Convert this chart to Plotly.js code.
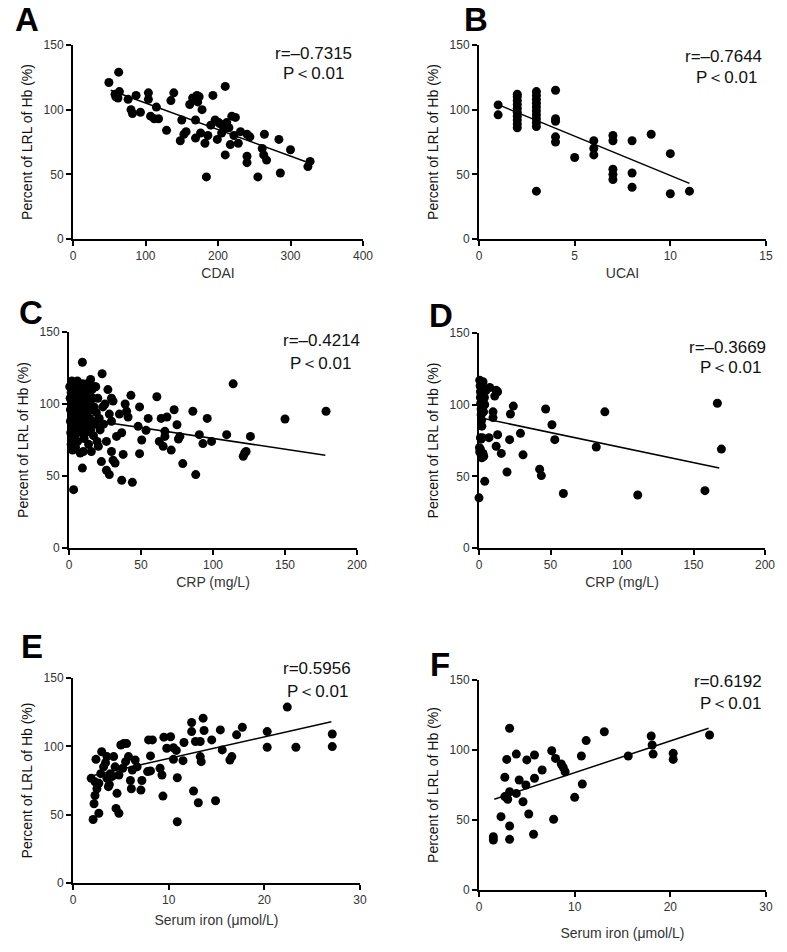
<!DOCTYPE html>
<html>
<head>
<meta charset="utf-8">
<script src="https://cdn.plot.ly/plotly-3.0.1.min.js"></script>
<style>html,body{margin:0;padding:0;background:#fff;}#chart{width:787px;height:952px;}</style>
</head>
<body>
<div id="chart"></div>
<script>
// ---------- DATA ----------
const panelLetters = ["A", "B", "C", "D", "E", "F"];
const xTitles = ["CDAI", "UCAI", "CRP (mg/L)", "CRP (mg/L)", "Serum iron (μmol/L)", "Serum iron (μmol/L)"];
const yTitle = "Percent of LRL of Hb (%)";
const rTexts = ["r=–0.7315", "r=–0.7644", "r=–0.4214", "r=–0.3669", "r=0.5956", "r=0.6192"];
const pText = "P＜0.01";
const xRanges = [[0, 400], [0, 15], [0, 200], [0, 200], [0, 30], [0, 30]];
const xTickVals = [[0, 100, 200, 300, 400], [0, 5, 10, 15], [0, 50, 100, 150, 200], [0, 50, 100, 150, 200], [0, 10, 20, 30], [0, 10, 20, 30]];
const yTickVals = [0, 50, 100, 150];

// Panel A: CDAI
const aX = [49.5, 63, 59, 64, 58, 62, 76, 87, 80, 82, 93, 104, 104, 107, 115, 118, 112, 129, 139, 135, 150, 153, 148, 161, 165, 171, 174, 169, 169, 176, 178, 182, 184, 190, 193, 196, 199, 201, 205, 210, 210, 212, 208, 217, 219, 224, 222, 228, 231, 240, 244, 240, 240, 255, 261, 263, 267, 264, 284, 286, 300, 324, 327, 186, 203, 156, 172, 215];
const aY = [121, 129, 110, 114, 112, 109, 108, 111, 100, 97, 98, 113, 108, 95, 102, 93, 93, 84, 113, 107, 92, 81, 76, 104, 109, 111, 110, 92, 78, 82, 100, 74, 48, 88, 111, 92, 77, 90, 82, 118, 65, 90, 85, 73, 95, 94, 80, 74, 83, 81, 79, 64, 59, 48, 70, 65, 61, 81, 77, 51, 69, 56, 60, 80, 89, 83, 106, 86];
const aFitX = [52, 325];
const aFitY = [115, 59];

// Panel B: UCAI
const bX = [1, 1, 2, 2, 2, 2, 2, 2, 2, 2, 2, 2, 3, 3, 3, 3, 3, 3, 3, 3, 3, 3, 3, 4, 4, 4, 4, 4, 5, 6, 6, 6, 7, 7, 7, 7, 7, 8, 8, 8, 9, 10, 10, 11];
const bY = [103.7, 96, 112, 110, 107, 104, 101, 98, 95, 92, 89, 86, 114, 111, 108, 105, 102, 99, 96, 93, 90, 87, 37, 115, 93, 91, 79, 75, 63, 76, 70, 65, 80, 76, 54, 50, 46, 76, 51, 40, 81, 66, 35, 37];
const bFitX = [0.9, 11];
const bFitY = [104.5, 43];

// Panel C: CRP (CD)
const cX = [0.5, 0.8, 1, 1, 1.2, 1.5, 1.5, 1.8, 2, 2, 2.2, 2.5, 2.5, 2.8, 3, 3, 3.2, 3.5, 3.5, 3.8, 4, 4, 4.3, 4.5, 4.8, 5, 5, 5.3, 5.5, 5.8, 6, 6, 6.3, 6.5, 6.8, 7, 7.2, 7.5, 7.8, 8, 8.2, 8.5, 8.8, 9, 9.3, 9.3, 9.5, 9.8, 10, 10, 10.3, 10.5, 10.8, 11, 11.3, 11.6, 12, 12.3, 12.6, 13, 13.3, 13.6, 14, 14.3, 14.6, 15, 15, 15.5, 15.5, 16, 16.3, 16.6, 17, 17.4, 17.8, 18.2, 18.6, 19, 19.5, 20, 20.4, 21, 21.6, 22.5, 23, 23.5, 24, 25, 27, 29.5, 30.6, 28, 29.5, 26, 28, 29.5, 30.6, 32, 26, 37.6, 36.6, 44, 43, 39, 40, 41, 35, 36.6, 33, 49, 48, 50.5, 49, 53.5, 55, 61, 62.7, 65.4, 64, 68, 66.6, 66.6, 71, 75, 76, 77, 73, 79, 86, 88, 90.5, 93, 96, 99, 109.5, 114, 121, 122, 123, 126, 150, 178.5];
const cY = [112, 104, 96, 88, 80, 72, 108, 100, 116, 92, 84, 76, 68, 110, 102, 94, 40.5, 86, 114, 106, 98, 78, 90, 70, 82, 110, 102, 94, 86, 116, 74, 106, 98, 90, 112, 82, 104, 96, 66, 88, 108, 100, 80, 92, 129, 55.5, 114, 84, 67, 104, 96, 76, 110, 88, 100, 80, 106, 92, 114, 84, 98, 72, 108, 90, 102, 117, 82, 67, 96, 110, 88, 104, 78, 98, 112, 86, 112, 94, 74, 104, 70.6, 90, 82, 60, 121, 98, 86, 100, 110, 104, 102, 93, 88, 54, 51, 67, 61, 59, 74, 65, 47, 45.6, 106, 100, 95, 91, 93, 80, 77.5, 98, 84.5, 75, 65.5, 81.7, 90, 105, 74, 70.6, 90, 91, 81, 77.5, 68, 85.6, 75.7, 77.5, 96, 58.6, 95, 51, 78.7, 72.5, 90, 74, 78.7, 114, 63.7, 66, 67, 77.5, 89.6, 95];
const cFitX = [0.5, 178];
const cFitY = [91, 64.4];

// Panel D: CRP (UC)
const dX = [0, 0.3, 0.5, 0.8, 1, 1, 1.2, 1.5, 1.5, 1.8, 2, 2, 2.3, 2.5, 2.8, 3, 3.2, 3.5, 3.8, 4, 1, 1.5, 0.5, 1, 2, 2.8, 5, 7.5, 12, 13, 11, 2.3, 2.8, 3.3, 4, 7, 9.8, 9.8, 12, 13, 15.6, 19.6, 21.4, 22, 24, 29, 30.8, 42.4, 43.6, 46.6, 51, 53, 59, 82, 88, 111, 158, 166.7, 169.5];
const dY = [35, 70, 117, 113, 109, 105, 101, 97, 93, 89, 85, 115, 111, 107, 103, 99, 95, 111, 105, 100, 77, 76, 67, 69, 63, 116, 110, 112, 110, 109, 106, 77, 66, 64, 46.5, 77, 95, 91, 71, 79, 66, 53, 75.6, 93.5, 99, 80, 65, 55, 50.5, 97, 86, 75.6, 38, 70.5, 95, 37, 40, 101, 69];
const dFitX = [1.6, 168];
const dFitY = [90.7, 55.8];

// Panel E: Serum iron (CD)
const eX = [2.1, 2.7, 2.2, 2.3, 2.5, 1.9, 2.3, 2.7, 2.4, 3, 3.2, 3.55, 3.55, 3.7, 3.9, 4.25, 4.4, 4.6, 4.5, 4.8, 4.8, 5, 5.3, 5.5, 5.6, 5.8, 6, 6.1, 6.2, 6.5, 6.7, 7.2, 7.1, 7.9, 8.1, 8.3, 8.1, 7.8, 9.1, 9.3, 9.4, 9.5, 9.8, 10.2, 10.5, 10.8, 10.5, 10.9, 10.9, 11.5, 11.6, 12.4, 12.4, 12.8, 12.6, 13.1, 13.3, 13.4, 13.3, 13.6, 13.7, 14.5, 14.9, 15.4, 15.6, 16.4, 16.6, 17.1, 17.7, 20.3, 20.3, 22.4, 23.3, 27.1, 27.1, 3.4, 4.1, 2.9, 5.2, 3.8];
const eY = [46.5, 51, 58, 64, 69, 76.6, 74, 73, 90.5, 96, 85, 92.5, 76.6, 70.5, 80, 92.5, 85, 65.6, 54.6, 51, 79, 101, 102, 88.8, 102, 92.5, 75, 69, 82.7, 90, 85, 75, 68, 104.7, 93, 104.7, 82, 81.5, 84, 79, 63.6, 106.7, 98.6, 107, 99, 97, 90.5, 77, 44.8, 89.5, 102.8, 117.4, 110.8, 103.5, 67.3, 58.7, 92.5, 88.8, 103.5, 120.6, 111.6, 104.7, 60.2, 112, 97.4, 90, 92.5, 108.4, 114, 110.8, 99.3, 128.7, 99.3, 109, 99.8, 88, 78, 80, 84, 72];
const eFitX = [2, 27];
const eFitY = [78.5, 118];

// Panel F: Serum iron (UC)
const fX = [1.5, 1.5, 2.3, 2.7, 2.9, 2.7, 3, 3.2, 3.2, 3.2, 3.2, 3.9, 3.9, 4.2, 4.6, 5, 4.9, 5.2, 5.7, 5.8, 5.8, 6.6, 7.6, 7.8, 8, 8.6, 8.8, 9, 10, 10.7, 10.8, 11.2, 13.1, 15.6, 18, 18.1, 18.2, 20.3, 20.3, 24.1];
const fY = [38, 35.7, 52.4, 80.5, 93.3, 66.7, 64.8, 115.5, 70.2, 45.7, 36.2, 97.1, 69, 78.6, 63, 92.9, 75, 54.3, 39.8, 79.8, 96.4, 85.7, 99.5, 50.5, 94, 90, 87.6, 84.5, 66.2, 95.7, 75.7, 106.7, 113, 95.7, 110, 103.6, 97.1, 97.6, 93.3, 110.7];
const fFitX = [1.6, 24];
const fFitY = [64.8, 115.5];

const seriesX = [aX, bX, cX, dX, eX, fX];
const seriesY = [aY, bY, cY, dY, eY, fY];
const fitXs = [aFitX, bFitX, cFitX, dFitX, eFitX, fFitX];
const fitYs = [aFitY, bFitY, cFitY, dFitY, eFitY, fFitY];

// ---------- LAYOUT (pixel geometry) ----------
const W = 787, H = 952;
// [left, right, top, bottom] of each plot area in pixels
const boxes = [
  [73, 363, 45, 239],
  [479, 766, 45, 239],
  [69, 357, 332, 548],
  [479, 765, 333, 548],
  [73, 360, 678, 883],
  [479, 766, 680, 890]
];
const letterPos = [[27, 19], [476, 19], [31, 313], [441, 316], [32, 646], [440, 664]];
const rPos = [[313, 53], [723, 56], [321, 340], [727, 347], [317, 668], [728, 681]];
const pPos = [[313, 74], [726, 77], [320, 363], [730, 368], [317, 691], [730, 703]];
const xStandoff = [6, 6, 6, 6, 9, 15];

const FONT = "Liberation Sans, Arial, sans-serif";
const traces = [];
const layout = {
  width: W, height: H,
  margin: {l: 0, r: 0, t: 0, b: 0},
  paper_bgcolor: "#fff", plot_bgcolor: "#fff",
  showlegend: false,
  font: {family: FONT, color: "#222"},
  annotations: []
};

for (let i = 0; i < 6; i++) {
  const n = i === 0 ? "" : String(i + 1);
  const xa = "x" + n, ya = "y" + n;
  traces.push({
    type: "scatter", mode: "markers", x: seriesX[i], y: seriesY[i],
    xaxis: xa, yaxis: ya, cliponaxis: false,
    marker: {color: "#000", size: 9, symbol: "circle"},
    hoverinfo: "skip"
  });
  traces.push({
    type: "scatter", mode: "lines", x: fitXs[i], y: fitYs[i],
    xaxis: xa, yaxis: ya, cliponaxis: false,
    line: {color: "#000", width: 1.5}, hoverinfo: "skip"
  });
  const b = boxes[i];
  const common = {
    showgrid: false, zeroline: false, showline: true, linewidth: 2, linecolor: "#000",
    ticks: "outside", ticklen: 5, tickwidth: 2, tickcolor: "#000",
    tickfont: {family: FONT, size: 12, color: "#333"}, fixedrange: true
  };
  layout["xaxis" + n] = Object.assign({}, common, {
    domain: [b[0] / W, b[1] / W], anchor: ya,
    range: xRanges[i], tickmode: "array", tickvals: xTickVals[i],
    title: {text: xTitles[i], font: {family: FONT, size: 14, color: "#333"}, standoff: xStandoff[i]}
  });
  layout["yaxis" + n] = Object.assign({}, common, {
    domain: [1 - b[3] / H, 1 - b[2] / H], anchor: xa,
    range: [0, 150], tickmode: "array", tickvals: yTickVals,
    title: {text: yTitle, font: {family: FONT, size: 14, color: "#111"}, standoff: 8}
  });
  layout.annotations.push({
    xref: "paper", yref: "paper", x: letterPos[i][0] / W, y: 1 - letterPos[i][1] / H,
    text: "<b>" + panelLetters[i] + "</b>", showarrow: false,
    xanchor: "center", yanchor: "middle",
    font: {family: FONT, size: 33, color: "#000"}
  });
  layout.annotations.push({
    xref: "paper", yref: "paper", x: rPos[i][0] / W, y: 1 - rPos[i][1] / H,
    text: rTexts[i], showarrow: false, xanchor: "center", yanchor: "middle",
    font: {family: FONT, size: 17, color: "#111"}
  });
  layout.annotations.push({
    xref: "paper", yref: "paper", x: pPos[i][0] / W, y: 1 - pPos[i][1] / H,
    text: pText, showarrow: false, xanchor: "center", yanchor: "middle",
    font: {family: FONT, size: 17, color: "#111"}
  });
}

Plotly.newPlot("chart", traces, layout, {staticPlot: true, displayModeBar: false});
</script>
</body>
</html>
